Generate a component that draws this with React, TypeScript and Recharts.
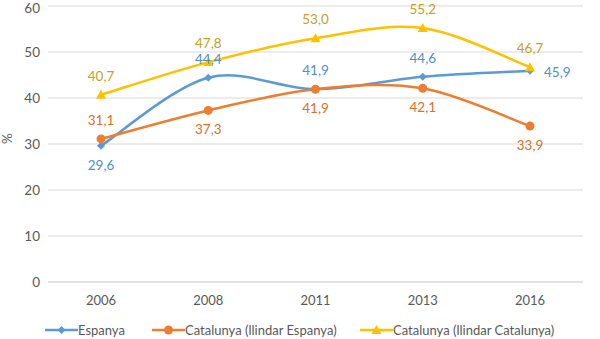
import { CartesianGrid, LabelList, Line, LineChart, XAxis, YAxis } from "recharts"

const years = ["2006", "2008", "2011", "2013", "2016"]
const espanya = [29.6, 44.4, 41.9, 44.6, 45.9]
const catEsp = [31.1, 37.3, 41.9, 42.1, 33.9]
const catCat = [40.7, 47.8, 53.0, 55.2, 46.7]
const yTicks = [0, 10, 20, 30, 40, 50, 60]

// where each data label sits relative to its point
const espanyaPos = ["bottom", "top", "top", "top", "right"]
const catEspPos = ["top", "bottom", "bottom", "bottom", "bottom"]
const catCatPos = ["top", "top", "top", "top", "top"]

const data = years.map((year, i) => ({
  year,
  espanya: espanya[i],
  catEsp: catEsp[i],
  catCat: catCat[i],
}))

const FONT = "Lato, 'Open Sans', sans-serif"

// Excel-style smoothed line (Catmull-Rom through the points)
const smoothCurve = (context: any) => {
  let pts: [number, number][] = []
  return {
    areaStart() {},
    areaEnd() {},
    lineStart() {
      pts = []
    },
    point(x: number, y: number) {
      pts.push([+x, +y])
    },
    lineEnd() {
      if (!pts.length) return
      context.moveTo(pts[0][0], pts[0][1])
      for (let i = 0; i < pts.length - 1; i++) {
        const p0 = pts[i - 1] || pts[i]
        const p1 = pts[i]
        const p2 = pts[i + 1]
        const p3 = pts[i + 2] || p2
        context.bezierCurveTo(
          p1[0] + (p2[0] - p0[0]) / 6,
          p1[1] + (p2[1] - p0[1]) / 6,
          p2[0] - (p3[0] - p1[0]) / 6,
          p2[1] - (p3[1] - p1[1]) / 6,
          p2[0],
          p2[1],
        )
      }
    },
  }
}

function Marker({ shape, x, y, color }: { shape: string; x: number; y: number; color: string }) {
  if (shape === "diamond") {
    const r = 4
    return <path d={`M${x},${y - r}L${x + r},${y}L${x},${y + r}L${x - r},${y}Z`} fill={color} />
  }
  if (shape === "triangle") {
    const r = 5
    return <path d={`M${x},${y - r}L${x + r},${y + r * 0.8}L${x - r},${y + r * 0.8}Z`} fill={color} />
  }
  return <circle cx={x} cy={y} r={4.5} fill={color} />
}

const makeDot = (shape: string, color: string) => (props: any) => {
  const { cx, cy, index } = props
  if (cx == null || cy == null) return <g key={index} />
  return <Marker key={index} shape={shape} x={cx} y={cy} color={color} />
}

const makeLabel = (positions: string[], color: string) => (props: any) => {
  const { x, y, value, index } = props
  const pos = positions[index]
  let tx = x
  let ty = y
  let anchor = "middle"
  if (pos === "top") ty = y - 19
  if (pos === "bottom") ty = y + 19
  if (pos === "right") {
    tx = x + 14
    ty = y + 1
    anchor = "start"
  }
  return (
    <text
      x={tx}
      y={ty}
      fill={color}
      fontSize={13.5}
      fontFamily={FONT}
      textAnchor={anchor}
      dominantBaseline="central"
    >
      {Number(value).toFixed(1).replace(".", ",")}
    </text>
  )
}

const series = [
  { key: "espanya", name: "Espanya", color: "#5B9BD5", labelColor: "#4F8FCB", shape: "diamond", pos: espanyaPos },
  { key: "catEsp", name: "Catalunya (llindar Espanya)", color: "#ED7D31", labelColor: "#D7702C", shape: "circle", pos: catEspPos },
  { key: "catCat", name: "Catalunya (llindar Catalunya)", color: "#FFC000", labelColor: "#C9A020", shape: "triangle", pos: catCatPos },
]

function LegendBox() {
  const lefts = [45, 152, 360]
  return (
    <div style={{ position: "absolute", left: 0, top: 321, width: 600, height: 18, fontFamily: FONT, fontSize: 13, lineHeight: "18px", color: "#595959" }}>
      {series.map((s, i) => (
        <div key={s.key} style={{ position: "absolute", left: lefts[i], top: 0, height: 18, display: "flex", alignItems: "center", whiteSpace: "nowrap" }}>
          <svg width={33} height={14}>
            <line x1={0} y1={7} x2={33} y2={7} stroke={s.color} strokeWidth={2.5} />
            <Marker shape={s.shape} x={16.5} y={7} color={s.color} />
          </svg>
          <span>{s.name}</span>
        </div>
      ))}
    </div>
  )
}

export default function App() {
  return (
    <div style={{ position: "absolute", left: 0, top: 0, width: 600, height: 339, background: "#fff", overflow: "hidden" }}>
      <LineChart width={600} height={339} data={data} margin={{ top: 6, right: 17, bottom: 27, left: 0 }}>
        <CartesianGrid vertical={false} stroke="#D9D9D9" strokeWidth={1} />
        <XAxis
          dataKey="year"
          padding={{ left: 53, right: 53 }}
          axisLine={{ stroke: "#D9D9D9" }}
          tickLine={false}
          tickSize={0}
          tickMargin={14}
          height={30}
          tick={{ fill: "#595959", fontSize: 13, fontFamily: FONT }}
        />
        <YAxis
          domain={[0, 60]}
          ticks={yTicks}
          width={48}
          axisLine={false}
          tickLine={false}
          tickSize={0}
          tickMargin={8}
          tick={{ fill: "#595959", fontSize: 13.5, fontFamily: FONT }}
          label={{ value: "%", angle: -90, position: "insideLeft", offset: 7, fill: "#595959", fontSize: 13.5, fontFamily: FONT }}
        />
        {series.map((s) => (
          <Line
            key={s.key}
            dataKey={s.key}
            name={s.name}
            type={smoothCurve as any}
            stroke={s.color}
            strokeWidth={2.5}
            dot={makeDot(s.shape, s.color)}
            activeDot={false}
            isAnimationActive={false}
          >
            <LabelList dataKey={s.key} content={makeLabel(s.pos, s.labelColor)} />
          </Line>
        ))}
      </LineChart>
      <LegendBox />
    </div>
  )
}
